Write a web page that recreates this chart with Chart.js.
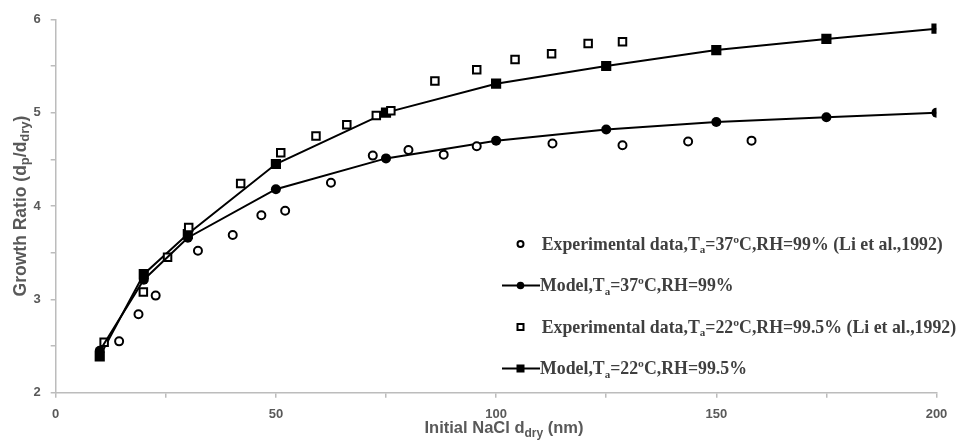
<!DOCTYPE html>
<html>
<head>
<meta charset="utf-8">
<script src="https://cdn.jsdelivr.net/npm/chart.js@4.4.0/dist/chart.umd.min.js"></script>
<style>
  html, body { margin: 0; padding: 0; background: #ffffff; }
  #wrap { width: 959px; height: 446px; position: relative; }
</style>
</head>
<body>
<div id="wrap"><canvas id="c" width="959" height="446"></canvas></div>
<script>
// ---- data ----
const exp37X = [14.4, 18.8, 22.7, 32.3, 40.2, 46.7, 52.1, 62.5, 72.0, 80.1, 88.1, 95.6, 112.8, 128.7, 143.6, 158.0];
const exp37Y = [2.55, 2.84, 3.04, 3.52, 3.69, 3.90, 3.95, 4.25, 4.54, 4.60, 4.55, 4.64, 4.67, 4.65, 4.69, 4.70];

const exp22X = [11.0, 19.9, 25.4, 30.2, 42.0, 51.1, 59.1, 66.1, 72.8, 76.1, 86.1, 95.6, 104.3, 112.6, 120.9, 128.7];
const exp22Y = [2.54, 3.08, 3.45, 3.77, 4.24, 4.57, 4.75, 4.87, 4.97, 5.02, 5.34, 5.46, 5.57, 5.63, 5.74, 5.76];

const modelX   = [10, 20, 30, 50, 75, 100, 125, 150, 175, 200];
const model37Y = [2.45, 3.21, 3.66, 4.18, 4.51, 4.70, 4.82, 4.90, 4.95, 5.00];
const model22Y = [2.39, 3.27, 3.70, 4.45, 5.00, 5.31, 5.50, 5.67, 5.79, 5.90];

const xTickLabels = [0, 50, 100, 150, 200];
const yTickLabels = [2, 3, 4, 5, 6];

// legend labels as [text, isSubscript] segments
const seriesNames = [
  [["Experimental data,T", false], ["a", true], ["=37\u00BAC,RH=99% (Li et al.,1992)", false]],
  [["Model,T", false], ["a", true], ["=37\u00BAC,RH=99%", false]],
  [["Experimental data,T", false], ["a", true], ["=22\u00BAC,RH=99.5% (Li et al.,1992)", false]],
  [["Model,T", false], ["a", true], ["=22\u00BAC,RH=99.5%", false]]
];
const yTitle = [["Growth Ratio (d", false], ["p", true], ["/d", false], ["dry", true], [")", false]];
const xTitle = [["Initial NaCl d", false], ["dry", true], [" (nm)", false]];

const pts = (xs, ys) => xs.map((x, i) => ({ x: x, y: ys[i] }));

const AXIS_GRAY = '#bcbcbc';
const LABEL_GRAY = '#595959';

function drawSegments(ctx, segs, x, y, size, family, weight, align, subRatio) {
  const subSize = Math.round(size * (subRatio || 0.68));
  const widths = segs.map(s => {
    ctx.font = weight + ' ' + (s[1] ? subSize : size) + 'px ' + family;
    return ctx.measureText(s[0]).width;
  });
  const total = widths.reduce((a, b) => a + b, 0);
  let cx = align === 'center' ? x - total / 2 : x;
  segs.forEach((s, i) => {
    ctx.font = weight + ' ' + (s[1] ? subSize : size) + 'px ' + family;
    ctx.fillText(s[0], cx, s[1] ? y + size * 0.22 : y);
    cx += widths[i];
  });
}

const customDraw = {
  id: 'customDraw',
  afterDraw(chart) {
    const ctx = chart.ctx;
    const area = chart.chartArea;
    ctx.save();
    // axis titles
    ctx.fillStyle = LABEL_GRAY;
    ctx.textBaseline = 'alphabetic';
    ctx.textAlign = 'left';
    drawSegments(ctx, xTitle, 504, 433, 16.5, '"Liberation Sans", Arial, sans-serif', 'bold', 'center', 0.7);
    ctx.save();
    ctx.translate(25.5, (area.top + area.bottom) / 2);
    ctx.rotate(-Math.PI / 2);
    drawSegments(ctx, yTitle, 0, 0, 17.5, '"Liberation Sans", Arial, sans-serif', 'bold', 'center', 0.72);
    ctx.restore();

    // legend
    const rowsY = [244, 285.5, 327, 368.5];
    const markerX = 520.5;
    ctx.strokeStyle = '#000';
    ctx.fillStyle = '#000';
    rowsY.forEach((ry, i) => {
      ctx.lineWidth = 2;
      if (i === 1 || i === 3) {
        ctx.beginPath();
        ctx.moveTo(502, ry);
        ctx.lineTo(540, ry);
        ctx.stroke();
      }
      if (i === 0) {
        ctx.beginPath(); ctx.arc(markerX, ry, 3, 0, Math.PI * 2);
        ctx.fillStyle = '#fff'; ctx.fill(); ctx.stroke();
      } else if (i === 1) {
        ctx.beginPath(); ctx.arc(markerX, ry, 3.8, 0, Math.PI * 2);
        ctx.fillStyle = '#000'; ctx.fill();
      } else if (i === 2) {
        ctx.fillStyle = '#fff';
        ctx.fillRect(markerX - 3, ry - 3, 6, 6);
        ctx.strokeRect(markerX - 3, ry - 3, 6, 6);
      } else {
        ctx.fillStyle = '#000';
        ctx.fillRect(markerX - 4, ry - 4, 8, 8);
      }
      ctx.fillStyle = '#3f3f3f';
      ctx.textBaseline = 'alphabetic';
      drawSegments(ctx, seriesNames[i], (i % 2 === 0) ? 541.7 : 540, ry + 5.5, 17.8,
        '"Liberation Serif", "Times New Roman", serif', 'bold', 'left', 0.62);
    });
    ctx.restore();
  }
};

new Chart(document.getElementById('c'), {
  type: 'scatter',
  data: {
    datasets: [
      {
        label: 'Experimental data, Ta=37ºC, RH=99% (Li et al.,1992)',
        data: pts(exp37X, exp37Y),
        pointStyle: 'circle', pointRadius: 4, borderWidth: 2,
        borderColor: '#000', backgroundColor: '#fff', showLine: false
      },
      {
        label: 'Model, Ta=37ºC, RH=99%',
        data: pts(modelX, model37Y),
        pointStyle: 'circle', pointRadius: 5, pointBorderWidth: 0,
        borderColor: '#000', backgroundColor: '#000', pointBackgroundColor: '#000',
        showLine: true, borderWidth: 2, tension: 0
      },
      {
        label: 'Experimental data, Ta=22ºC, RH=99.5% (Li et al.,1992)',
        data: pts(exp22X, exp22Y),
        pointStyle: 'rect', pointRadius: 5.3, borderWidth: 2,
        borderColor: '#000', backgroundColor: '#fff', showLine: false
      },
      {
        label: 'Model, Ta=22ºC, RH=99.5%',
        data: pts(modelX, model22Y),
        pointStyle: 'rect', pointRadius: 7.2, pointBorderWidth: 0,
        borderColor: '#000', backgroundColor: '#000', pointBackgroundColor: '#000',
        showLine: true, borderWidth: 2, tension: 0
      }
    ]
  },
  options: {
    responsive: false,
    animation: false,
    devicePixelRatio: 1,
    layout: { padding: { left: 0, right: 22.5, top: 19.3, bottom: 0 } },
    plugins: { legend: { display: false }, tooltip: { enabled: false } },
    scales: {
      x: {
        type: 'linear', min: 0, max: 200,
        afterFit: (s) => { s.height = 53.3; },
        border: { display: true, color: AXIS_GRAY, width: 1.5 },
        grid: { display: true, drawOnChartArea: false, drawTicks: true, tickLength: 5, color: AXIS_GRAY, lineWidth: 1.5 },
        ticks: {
          stepSize: 25, padding: 9, color: LABEL_GRAY, maxRotation: 0,
          font: { family: '"Liberation Sans", Arial, sans-serif', size: 13, weight: 'bold' },
          callback: (v) => xTickLabels.includes(v) ? String(v) : ''
        }
      },
      y: {
        type: 'linear', min: 2, max: 6,
        afterFit: (s) => { s.width = 55.7; },
        border: { display: true, color: AXIS_GRAY, width: 1.5 },
        grid: { display: true, drawOnChartArea: false, drawTicks: true, tickLength: 5, color: AXIS_GRAY, lineWidth: 1.5 },
        ticks: {
          stepSize: 0.5, padding: 10, color: LABEL_GRAY,
          font: { family: '"Liberation Sans", Arial, sans-serif', size: 13, weight: 'bold' },
          callback: (v) => yTickLabels.includes(v) ? String(v) : ''
        }
      }
    }
  },
  plugins: [customDraw]
});
</script>
</body>
</html>
